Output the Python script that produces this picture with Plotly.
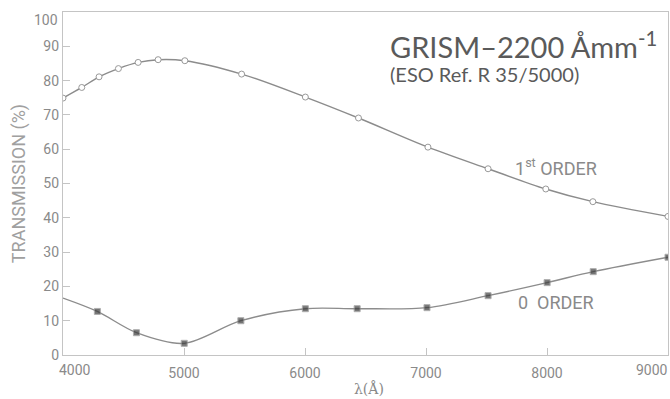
import plotly.graph_objects as go

# Transmission curves of the 2200 Å/mm grism
wl_first = [4000, 4155, 4298, 4458, 4621, 4786, 5007, 5476, 6003, 6442, 7016, 7513, 7990, 8379, 9000]
tr_first = [74.9, 78.0, 81.1, 83.5, 85.3, 86.1, 85.8, 81.9, 75.2, 69.1, 60.6, 54.3, 48.4, 44.7, 40.4]

wl_zero = [4000, 4284, 4607, 5002, 5470, 6003, 6431, 7008, 7513, 8001, 8382, 9000]
tr_zero = [16.6, 12.7, 6.5, 3.4, 10.0, 13.5, 13.5, 13.8, 17.3, 21.1, 24.3, 28.5]

x_ticks = [5000, 6000, 7000, 8000]
y_ticks = [0, 10, 20, 30, 40, 50, 60, 70, 80, 90]

GREY_TXT = "#8a8a8a"
GREY_LINE = "#8c8c8c"
FRAME = "#c4c4c4"
TICK_FONT = "Roboto, sans-serif"

fig = go.Figure()

# 1st order: open circles on a smooth curve
fig.add_trace(go.Scatter(
    x=wl_first, y=tr_first, mode="lines+markers",
    line=dict(shape="spline", smoothing=0.9, color=GREY_LINE, width=1.4),
    marker=dict(symbol="circle", size=6, color="white",
                line=dict(color="#999999", width=1)),
    showlegend=False,
))

# 0 order: filled squares; the curve enters from the left edge without a mark
zero_sizes = [0] + [6] * (len(wl_zero) - 1)
fig.add_trace(go.Scatter(
    x=wl_zero, y=tr_zero, mode="lines+markers",
    line=dict(shape="spline", smoothing=0.9, color=GREY_LINE, width=1.4),
    marker=dict(symbol="square", size=zero_sizes, color="#3a3a3a"),
    showlegend=False,
))

tick_font = dict(family=TICK_FONT, size=14, color=GREY_TXT)

annotations = [
    # end labels of both axes, nudged inside the frame
    dict(x=4000, y=0, xref="x", yref="paper", text="4000", showarrow=False,
         xanchor="left", yanchor="top", xshift=-6, yshift=-5, font=tick_font),
    dict(x=9000, y=0, xref="x", yref="paper", text="9000", showarrow=False,
         xanchor="right", yanchor="top", xshift=2, yshift=-5, font=tick_font),
    dict(x=0, y=100, xref="paper", yref="y", text="100", showarrow=False,
         xanchor="right", yanchor="top", xshift=-3, yshift=2, font=tick_font),
    # heading
    dict(x=0.537, y=0.905, xref="paper", yref="paper",
         text="GRISM–2200 Åmm<sup>-1</sup>", showarrow=False,
         xanchor="left", yanchor="middle",
         font=dict(family="Lato, sans-serif", size=29, color="#5a5a5a")),
    dict(x=0.537, y=0.82, xref="paper", yref="paper",
         text="(ESO Ref. R 35/5000)", showarrow=False,
         xanchor="left", yanchor="middle",
         font=dict(family="Lato, sans-serif", size=20, color="#5a5a5a")),
    # curve labels
    dict(x=7720, y=54.8, xref="x", yref="y",
         text="1<sup>st</sup> ORDER", showarrow=False,
         xanchor="left", yanchor="middle",
         font=dict(family=TICK_FONT, size=18, color=GREY_TXT)),
    dict(x=7745, y=15.4, xref="x", yref="y",
         text="0  ORDER", showarrow=False,
         xanchor="left", yanchor="middle",
         font=dict(family=TICK_FONT, size=18, color=GREY_TXT)),
    # x-axis title
    dict(x=0.505, y=-0.098, xref="paper", yref="paper",
         text="λ(Å)", showarrow=False, xanchor="center", yanchor="middle",
         font=dict(family="DejaVu Serif, serif", size=14, color=GREY_TXT)),
]

fig.update_layout(
    width=670, height=399,
    margin=dict(l=63, r=2, t=12, b=44),
    paper_bgcolor="white", plot_bgcolor="white",
    annotations=annotations,
    xaxis=dict(
        range=[4000, 9000], tickvals=x_ticks, ticks="inside", ticklen=7,
        tickcolor=FRAME, showline=True, linecolor=FRAME, linewidth=1.2,
        mirror=True, showgrid=False, zeroline=False,
        tickfont=tick_font, ticklabelstandoff=5,
    ),
    yaxis=dict(
        range=[0, 100], tickvals=y_ticks, ticks="inside", ticklen=7,
        tickcolor=FRAME, showline=True, linecolor=FRAME, linewidth=1.2,
        mirror=True, showgrid=False, zeroline=False,
        tickfont=tick_font,
        title=dict(text="TRANSMISSION (%)", standoff=13,
                   font=dict(family=TICK_FONT, size=18, color="#a0a0a0")),
    ),
)

fig.write_html("out.html")
